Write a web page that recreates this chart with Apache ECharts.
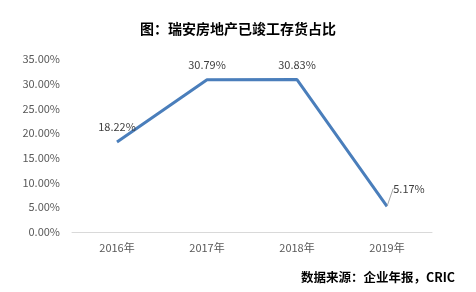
<!DOCTYPE html>
<html><head><meta charset="utf-8">
<script src="https://cdn.jsdelivr.net/npm/echarts@6/dist/echarts.min.js"></script>
<style>html,body{margin:0;padding:0;background:#fff}#c{width:476px;height:292px}</style>
</head><body><div id="c"></div>
<script>
const categories = ['2016年', '2017年', '2018年', '2019年'];
const values = [18.22, 30.79, 30.83, 5.17];
const yTicks = [0, 5, 10, 15, 20, 25, 30, 35];
const titleText = '图：瑞安房地产已竣工存货占比';
const sourceText = '数据来源：企业年报，CRIC';

const chart = echarts.init(document.getElementById('c'));
const fontFam = '"Noto Sans CJK SC", "Liberation Sans", sans-serif';
chart.setOption({
  animation: false,
  title: [{
    text: titleText, left: 'center', top: 17,
    textStyle: {fontSize: 14, fontWeight: 'bold', color: '#000', fontFamily: fontFam}
  }, {
    text: sourceText, right: 16, top: 266,
    textStyle: {fontSize: 12.5, fontWeight: 'bold', color: '#000', fontFamily: fontFam}
  }],
  grid: {left: 72, right: 44, top: 59, bottom: 60},
  xAxis: {
    type: 'category', data: categories, boundaryGap: true,
    axisLine: {lineStyle: {color: '#d9d9d9'}},
    axisTick: {show: false},
    axisLabel: {color: '#595959', fontSize: 11, margin: 10, fontFamily: fontFam}
  },
  yAxis: {
    type: 'value', min: yTicks[0], max: yTicks[yTicks.length - 1], interval: 5,
    axisLine: {show: false}, axisTick: {show: false},
    splitLine: {show: false},
    axisLabel: {color: '#595959', fontSize: 11, margin: 12, fontFamily: fontFam,
      formatter: v => v.toFixed(2) + '%'}
  },
  series: [{
    type: 'line',
    data: values.map((v, i) => i === 3
      ? {value: v, labelLine: {show: true, lineStyle: {color: '#a6a6a6', width: 1}}}
      : {value: v, labelLine: {show: false}}),
    symbol: 'circle',
    symbolSize: 1,
    itemStyle: {color: 'rgba(0,0,0,0)'},
    lineStyle: {color: '#4a7ebb', width: 3},
    label: {show: true, position: 'top', distance: 9, color: '#404040', fontSize: 11,
      fontFamily: fontFam, formatter: p => p.value.toFixed(2) + '%'},
    labelLayout: function (p) {
      if (p.dataIndex === 3) return {dx: 22, dy: -3};
      return {};
    }
  }]
});
</script></body></html>
